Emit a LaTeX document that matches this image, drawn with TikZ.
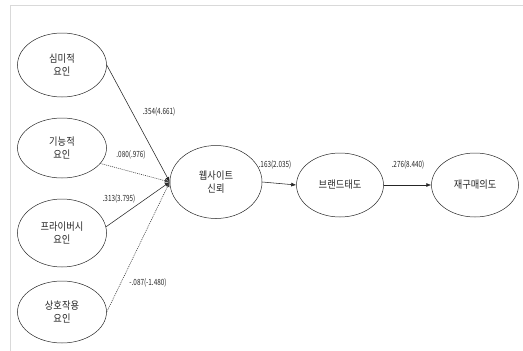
\documentclass[tikz,border=0pt]{standalone}
\usepackage{fontspec}
\setmainfont{Noto Sans CJK KR}
\newfontfamily\kfont[FakeStretch=0.88]{Noto Sans CJK KR}
\newfontfamily\nfont[FakeStretch=0.75]{Noto Sans CJK KR}
\usetikzlibrary{shapes.geometric,arrows.meta}
\begin{document}
\begin{tikzpicture}[x=1pt,y=-1pt,
  lat/.style={ellipse,draw=black!85,line width=0.5pt,inner sep=0pt,minimum width=89pt,minimum height=64pt,align=center,font=\kfont\fontsize{10.5}{13.5}\selectfont,text=black!85},
  path/.style={draw=black!85,line width=0.55pt,-{Latex[length=5pt,width=4pt]}},
  ns/.style={draw=black!75,line width=0.6pt,dash pattern=on 1pt off 1pt,-{Latex[length=5pt,width=4pt]}},
  lab/.style={font=\nfont\fontsize{8.5}{10}\selectfont,text=black!85,inner sep=0pt}]
\useasboundingbox (0,0) rectangle (523,351);
\draw[black!15,line width=0.8pt] (523,5.5) -- (10.5,5.5) -- (10.5,351);
\node[lat] (a1) at (62,65) {심미적\\요인};
\node[lat,minimum height=60pt] (a2) at (62,148) {기능적\\요인};
\node[lat,minimum height=68pt] (a3) at (62,233) {프라이버시\\요인};
\node[lat,minimum height=62pt] (a4) at (62,312) {상호작용\\요인};
\node[lat,minimum width=92pt,minimum height=73pt] (web) at (216,182) {웹사이트\\신뢰};
\node[lat,minimum width=87pt] (brand) at (340,185) {브랜드태도};
\node[lat,minimum width=87pt] (re) at (475,185) {재구매의도};
\draw[path] (a1.east) -- (web.west);
\draw[ns] (a2.-22) -- (web.west);
\draw[path] (a3.8) -- (web.west);
\draw[ns] (a4.east) -- (web.west);
\draw[path] (web.east) -- (brand.west);
\draw[path] (brand.east) -- (re.west);
\node[lab] (l1) at (159,112) {.354(4.661)};
\node[lab] (l2) at (131,155) {.080(.976)};
\node[lab] (l3) at (119,199) {.313(3.795)};
\node[lab] (l4) at (148,283) {-.087(-1.480)};
\node[lab] (l5) at (275,165) {.163(2.035)};
\node[lab] (l6) at (408,165) {.276(8.440)};
\end{tikzpicture}
\end{document}
